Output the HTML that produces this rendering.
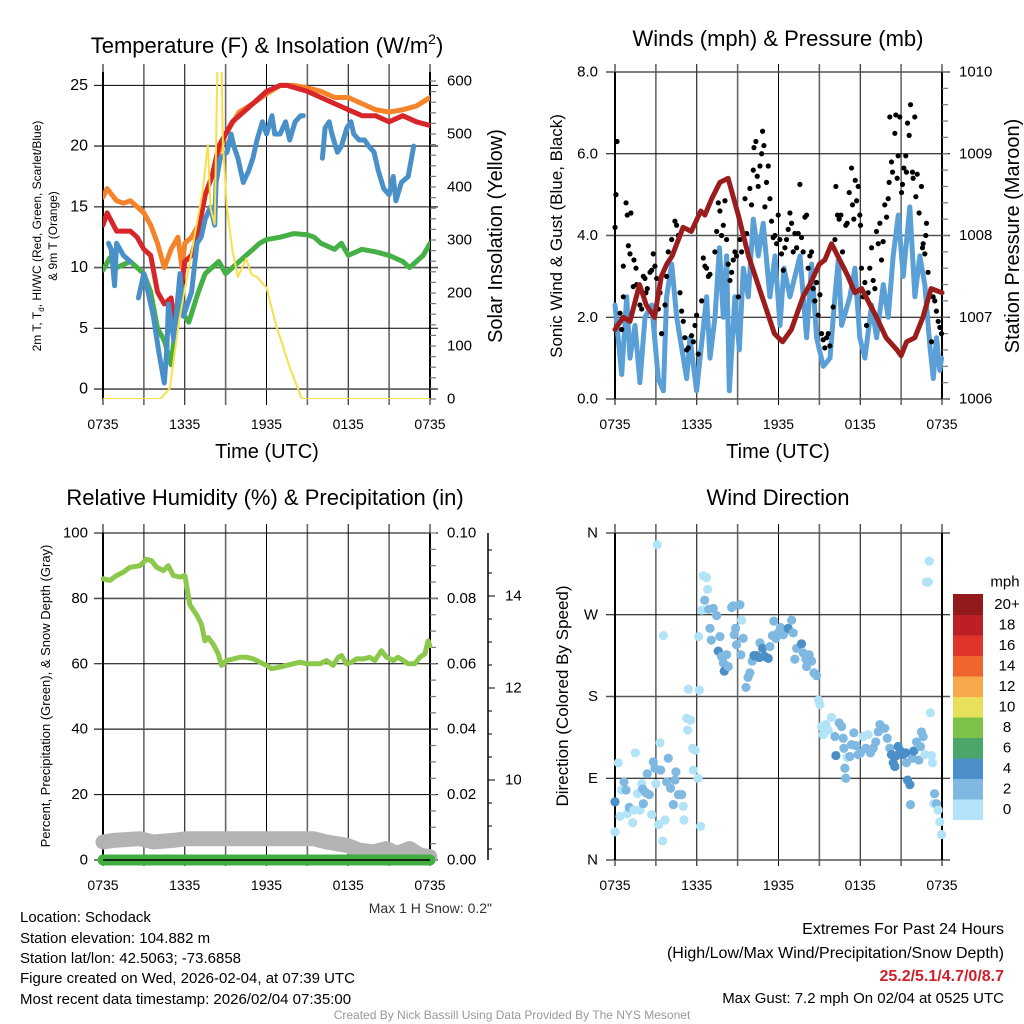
<!DOCTYPE html>
<html><head><meta charset="utf-8">
<style>
html,body{margin:0;padding:0;background:#fff;}
svg{display:block;font-family:"Liberation Sans",sans-serif;}
</style></head>
<body>
<svg id="fig" width="1024" height="1024" viewBox="0 0 1024 1024" xmlns="http://www.w3.org/2000/svg">
<rect width="1024" height="1024" fill="#fff"/>
<g id="texts" font-size="20" fill="#000">
<text x="267" y="53" text-anchor="middle" font-size="22">Temperature (F) &amp; Insolation (W/m<tspan font-size="14" dy="-9">2</tspan><tspan dy="9">)</tspan></text>
<text x="778" y="46" text-anchor="middle" font-size="22">Winds (mph) &amp; Pressure (mb)</text>
<text x="265" y="505" text-anchor="middle" font-size="22">Relative Humidity (%) &amp; Precipitation (in)</text>
<text x="778" y="505" text-anchor="middle" font-size="22">Wind Direction</text>
<text x="267" y="458" text-anchor="middle">Time (UTC)</text>
<text x="778" y="458" text-anchor="middle">Time (UTC)</text>
<text transform="translate(41,236) rotate(-90)" text-anchor="middle" font-size="12">2m T, T<tspan font-size="8" dy="3">d</tspan><tspan dy="-3">, HI/WC (Red, Green, Scarlet/Blue)</tspan></text>
<text transform="translate(57,236) rotate(-90)" text-anchor="middle" font-size="12">&amp; 9m T (Orange)</text>
<text transform="translate(502,236) rotate(-90)" text-anchor="middle">Solar Insolation (Yellow)</text>
<text transform="translate(562,236) rotate(-90)" text-anchor="middle" font-size="17">Sonic Wind &amp; Gust (Blue, Black)</text>
<text transform="translate(1019,236) rotate(-90)" text-anchor="middle">Station Pressure (Maroon)</text>
<text transform="translate(50,696) rotate(-90)" text-anchor="middle" font-size="13">Percent, Precipitation (Green), &amp; Snow Depth (Gray)</text>
<text transform="translate(568,696) rotate(-90)" text-anchor="middle" font-size="17">Direction (Colored By Speed)</text>
<text x="492" y="913" text-anchor="end" font-size="14" fill="#333">Max 1 H Snow: 0.2"</text>
<g font-size="15">
<text x="20" y="922">Location: Schodack</text>
<text x="20" y="943">Station elevation: 104.882 m</text>
<text x="20" y="963">Station lat/lon: 42.5063; -73.6858</text>
<text x="20" y="983">Figure created on Wed, 2026-02-04, at 07:39 UTC</text>
<text x="20" y="1004">Most recent data timestamp: 2026/02/04 07:35:00</text>
</g>
<g font-size="16" text-anchor="end">
<text x="1004" y="934">Extremes For Past 24 Hours</text>
<text x="1004" y="958">(High/Low/Max Wind/Precipitation/Snow Depth)</text>
<text x="1004" y="981" fill="#d0202a" font-weight="bold">25.2/5.1/4.7/0/8.7</text>
<text x="1004" y="1003" font-size="15">Max Gust: 7.2 mph On 02/04 at 0525 UTC</text>
</g>
<text x="512" y="1019" text-anchor="middle" font-size="12" fill="#999">Created By Nick Bassill Using Data Provided By The NYS Mesonet</text>
</g>
</svg>
<script>
// ---------- DATA ----------
const xTickLabels = ["0735","1335","1935","0135","0735"];
// Temperature panel
const orangeTimes = [0,0.3,1,1.5,2,2.5,3,3.5,4,4.5,5,5.5,5.8,6,6.5,7,7.5,8,8.5,9,10,11,12,13,14,15,16,17,18,19,20,21,22,23,24];
const orangeTemps = [15.8,16.5,15.5,15.3,15.5,15,14.5,13.5,12,10,11.5,12.5,10,12,12.5,13.5,16,17.5,19.5,21,22.8,23.5,24.3,25,25,24.8,24.5,24,24,23.5,23,22.8,23,23.3,24];
const redTimes = [0,0.3,1,2,2.5,3,3.5,4,4.5,5,5.3,5.7,6,6.5,7,7.5,8,8.5,9,9.5,10.5,11,11.5,12,13,13.5,15,16,17,18,19,20,21,22,23,24];
const redTemps = [13.5,14.5,13,13,12.5,11.5,11,8,7,7.5,5,8,10.5,11,13,16,17.5,20,21,22,23,23.5,24,24.5,25,25,24.5,24,23.5,23,22.5,22.5,22,22.5,22,21.7];
const greenTimes = [0,0.5,1,2,2.5,3,3.5,4,4.5,5,5.5,6,6.3,7,7.5,8,8.5,9,9.5,10.5,11.5,12,13,14,15,15.5,16,17,17.5,18,19,20,21,22,22.5,23,23.5,24];
const greenDewpts = [9.8,10.8,10,10.5,10,9.5,8,5,4,2,7,6,5.5,8,9.5,10,10.5,9.5,10,11,12,12.3,12.5,12.8,12.7,12.5,12,11.5,12,11,11.5,11.3,11,10.5,10,10.5,11,12];
const blueTimes = [0.4,0.6,0.85,1.0,1.5,2.0,2.3,2.6,3.0,3.3,3.7,4.1,4.5,4.7,4.8,5.2,5.65,5.9,6.5,6.9,7.2,7.5,7.9,8.2,8.3,8.6,9.1,9.4,9.6,9.9,10.3,10.7,11.0,11.3,11.7,12.0,12.4,12.6,13.0,13.4,13.7,14.1,14.5,14.7,15.0,16.1,16.3,16.6,16.8,17.2,17.5,17.9,18.2,18.4,18.8,19.2,19.5,19.9,20.2,20.6,21.0,21.3,21.5,21.9,22.4,22.8];
const blueWindChill = [12,11.5,8.5,12,11,10.5,null,7.5,9.5,8,6,3,0.5,3.5,7,4,9.5,6,8,12,12.5,14,15,13.5,17,19,19.5,21,20,19,17,18,19,20.5,22,21,22.5,21,21,22,20.5,22,22.5,22.5,null,19,21.5,22,21,19.5,20,21.5,22,21,20.5,20.5,20,19.5,18,16.5,16,17.5,15.5,17,17.5,20];
const solarTimes = [0,4.2,4.9,5.6,6.6,7.3,7.7,7.9,8.2,8.4,8.7,8.8,9.1,9.5,9.9,10.5,10.9,11.3,12,12.7,13.7,14.6,24];
const solarValues = [0,0,20,150,290,390,480,360,330,640,640,480,360,280,230,265,235,230,210,140,60,0,0];
const tempTicks = [0,5,10,15,20,25];
const solarTicks = [0,100,200,300,400,500,600];
// Winds panel
const windTimes = [0,0.49,0.86,1.10,1.47,1.83,2.20,2.69,3.18,3.55,3.79,4.16,4.53,5.26,5.50,5.99,6.72,6.97,7.34,7.66,7.95,8.19,8.39,8.80,9.12,9.42,9.78,10.15,10.52,10.88,11.37,11.74,12.11,12.40,12.84,13.58,14.06,14.43,14.80,15.29,15.78,16.14,16.39,16.63,17.24,17.61,17.97,18.34,18.83,19.20,19.69,20.05,20.42,20.79,21.15,21.64,22.01,22.37,22.74,23.11,23.36,23.60,23.84,23.97];
const windSpeeds = [2.3,0.6,2.5,1.0,1.8,0.4,2.0,2.3,0.5,0.2,2.5,3.3,2.0,0.5,1.5,0.2,2.5,1.0,2.0,3.7,2.0,3.5,0.2,2.5,1.2,3.2,2.5,4.4,3.5,4.3,2.5,3.5,1.8,3.2,2.5,3.5,1.5,3.3,1.5,0.8,1.0,2.5,3.4,1.8,2.5,3.2,1.5,1.0,2.3,1.5,2.8,2.0,3.5,4.5,3.0,4.7,2.5,3.5,2.8,1.3,0.5,1.5,0.7,1.0];
const gustTimes = [0,0.07,0.15,0.37,0.49,0.61,0.81,0.9,0.98,1.1,1.17,0.61,1.39,1.54,1.59,1.34,1.83,1.96,2.08,2.2,2.27,2.37,2.57,2.69,2.81,2.93,3.06,3.18,3.3,3.42,3.67,3.79,3.91,4.16,4.4,4.52,4.65,4.77,4.89,5.01,5.13,5.26,5.38,5.62,5.75,5.87,5.99,6.11,6.36,6.48,6.6,6.72,6.85,6.97,7.33,7.46,7.58,7.7,7.82,7.95,8.07,8.19,8.31,8.44,8.56,8.68,8.8,8.92,9.05,9.17,9.29,9.54,9.66,9.9,10.02,10.15,10.2,10.34,10.44,10.51,10.64,10.76,10.83,10.93,11.0,11.12,11.25,11.37,11.49,11.61,11.74,11.86,11.98,12.1,12.22,12.35,12.47,12.59,12.71,12.84,12.96,13.08,13.2,13.33,13.45,13.57,13.69,13.81,13.94,14.06,14.18,14.3,14.43,14.55,14.67,14.79,14.91,15.04,15.16,15.28,15.4,15.53,15.65,15.77,16.01,16.14,16.21,16.33,16.45,16.58,16.7,16.8,16.94,17.04,17.19,17.36,17.43,17.53,17.63,17.73,17.85,17.97,18.02,18.09,18.22,18.34,18.46,18.58,18.7,18.83,18.95,19.07,19.19,19.32,19.44,19.56,19.68,19.8,19.93,20.05,20.12,20.17,20.29,20.37,20.54,20.61,20.71,20.78,20.9,21.03,21.1,21.2,21.34,21.39,21.47,21.59,21.69,21.83,21.88,22.0,22.08,22.18,22.32,22.49,22.57,22.62,22.74,22.81,22.86,22.98,23.23,23.35,23.47,23.59,23.72,23.84,23.96];
const gustSpeeds = [4.2,5.0,6.3,2.1,1.7,2.5,4.8,4.5,3.75,3.55,4.55,3.25,3.4,3.2,2.8,2.75,2.3,2.2,3.0,2.95,2.6,2.7,3.1,3.15,3.55,3.25,2.95,2.2,2.6,1.6,2.3,3.0,3.6,3.9,4.35,4.25,4.0,2.6,2.15,1.9,1.5,1.2,1.25,1.55,1.4,1.8,2.05,1.1,2.4,3.45,3.25,3.2,3.0,3.05,3.6,4.1,4.8,4.6,4.0,4.25,4.85,3.9,3.3,2.9,3.1,3.4,3.6,3.5,2.5,3.9,3.6,4.9,4.05,5.15,4.75,5.6,6.15,6.3,5.45,5.2,5.7,6.0,6.55,6.2,4.7,5.3,5.7,4.9,4.35,3.95,4.0,3.8,4.5,3.9,3.55,3.15,3.7,3.9,4.15,4.55,4.3,3.6,4.05,3.7,4.05,5.25,3.95,3.6,4.45,4.5,3.2,3.5,3.6,2.7,2.4,2.85,2.05,2.55,1.6,1.45,1.25,1.5,1.6,1.3,2.25,3.9,5.2,4.5,4.4,4.5,3.6,3.2,4.25,4.3,5.05,5.65,4.75,4.4,5.35,4.85,5.2,4.5,4.25,3.2,2.5,2.85,1.8,2.6,3.2,3.7,2.9,2.7,4.1,3.8,4.3,3.4,3.85,4.75,4.45,4.9,5.3,6.9,5.8,5.55,6.5,6.95,5.4,5.95,6.9,5.05,5.25,5.65,5.95,5.55,6.75,6.45,7.2,5.55,5.4,6.9,4.95,5.5,4.55,5.2,3.7,3.8,3.55,4.0,4.3,3.1,1.4,2.5,2.4,2.15,1.9,1.75,1.6];
const pressureTimes = [0,0.6,1.1,1.8,2.3,2.9,3.4,3.8,4.2,5.0,5.6,6.3,6.6,7.1,7.7,8.3,9.05,9.8,10.8,11.7,12.3,12.95,13.8,14.3,15.0,15.4,15.9,16.5,17.1,17.6,18.1,19.2,19.9,20.7,21.0,21.4,22.0,22.6,23.2,24];
const pressureValues = [1006.85,1007.0,1006.95,1007.4,1007.15,1007.0,1007.5,1007.65,1007.75,1008.1,1008.05,1008.3,1008.25,1008.45,1008.65,1008.7,1008.25,1007.75,1007.25,1006.8,1006.7,1006.85,1007.25,1007.4,1007.65,1007.7,1007.9,1007.7,1007.5,1007.3,1007.35,1007.0,1006.75,1006.6,1006.53,1006.7,1006.75,1007.0,1007.35,1007.3];
const windTickLabels = ["0.0","2.0","4.0","6.0","8.0"];
const pressureTickLabels = ["1006","1007","1008","1009","1010"];
// Humidity panel
const rhTimes = [0.02,0.51,1.0,1.49,1.98,2.71,3.2,3.57,3.94,4.43,4.79,5.16,5.65,6.01,6.38,6.87,7.24,7.48,7.73,8.09,8.46,8.7,9.07,9.56,10.05,10.54,11.03,11.52,12.0,12.37,12.98,13.47,13.96,14.45,14.94,15.43,15.92,16.41,16.89,17.26,17.51,17.87,18.24,18.61,19.1,19.58,19.95,20.44,20.81,21.3,21.66,22.03,22.4,22.89,23.25,23.62,23.86,23.99];
const rhValues = [86,85.5,87,88,89.5,90,92,91.5,89.5,88.5,90,87,86.5,87,78,75,72,67,68,66,63,59.5,61,61.5,62,62,61.5,60.5,59.5,58.5,59,59.5,60,60.5,60,60,60,61,59.5,62,62.5,60,60.5,61.5,61.5,62,61,64,62,61,62,61,60,60,62,63,67,65.5];
const snowTimes = [0,0.76,2.71,3.69,5.16,6.14,15.43,16.41,17.87,18.85,19.83,20.81,21.54,22.52,23.25,23.99];
const snowValues = [5.5,6,6.5,5.5,6,6.5,6.5,5.5,4.5,3,2.5,3.5,2,3.5,1.5,1];
const precipTimes = [0,6,12,18,24];
const precipValues = [0,0,0,0,0];
const rhTicks = [0,20,40,60,80,100];
const precipTickLabels = ["0.00","0.02","0.04","0.06","0.08","0.10"];
const snowAxisLabels = ["10","12","14"];
// Wind direction panel
const dirTimes = [0,0,0.24,0.37,0.49,0.66,0.81,0.9,1.05,1.3,1.39,1.49,1.64,1.83,1.96,2.03,2.08,2.27,2.52,2.37,2.69,2.81,2.93,3.0,3.1,3.2,3.3,3.35,3.5,3.55,3.67,3.79,3.91,4.08,4.28,4.4,4.47,4.65,4.89,5.01,5.06,5.26,5.33,5.38,5.55,5.7,5.75,5.87,6.09,6.19,6.28,6.14,6.38,6.48,6.58,6.72,6.8,6.87,6.97,7.07,7.21,7.46,7.58,7.7,7.82,7.95,8.02,8.19,8.31,8.56,8.68,8.75,8.85,8.92,9.17,9.29,9.24,9.41,9.61,9.76,9.9,10.07,10.2,10.39,10.59,10.64,10.83,11.0,11.25,11.37,11.56,11.66,11.81,11.98,12.15,12.35,12.54,12.71,12.96,13.08,13.2,13.33,13.69,13.81,14.01,14.06,14.25,14.43,14.6,14.79,14.94,15.04,15.16,15.28,15.48,15.65,15.89,16.14,16.21,16.45,16.63,16.75,16.8,16.87,16.94,17.04,17.24,17.36,17.53,17.68,17.85,18.02,18.22,18.41,18.58,18.75,18.95,19.14,19.32,19.44,19.63,19.8,19.98,20.17,20.29,20.42,20.54,20.66,20.78,20.95,21.15,21.34,21.39,21.47,21.64,21.69,21.83,21.93,22.13,22.3,22.42,22.49,22.62,22.74,22.86,23.0,23.06,23.15,23.23,23.3,23.45,23.4,23.59,23.72,23.84,23.96];
const dirDegrees = [64,31,107,48,77,86,77,51,58,41,55,118,73,55,84,78,62,74,72,95,50,108,101,84,347,39,129,99,21,247,44,86,112,79,61,88,97,72,72,59,44,156,143,188,154,123,99,121,90,187,37,246,275,313,286,311,298,276,255,242,277,269,230,246,224,217,208,226,213,278,280,248,255,237,281,264,226,244,190,201,206,219,225,225,223,239,233,224,222,235,247,263,244,250,256,248,253,255,264,250,221,233,238,228,221,213,226,219,206,203,176,171,147,138,149,143,157,136,115,151,147,134,123,101,90,113,114,127,140,126,116,118,136,123,138,118,123,130,141,149,145,145,134,123,116,107,103,115,125,120,116,118,107,88,83,61,112,120,130,110,125,141,136,116,306,306,329,162,115,107,73,62,62,55,42,28];
const dirSpeeds = [4.5,1,1,1,1,3,3,1,3,1,1,1,1,1,1,3,3,3,3,3,1,3,3,1,1,1,1,3,1,1,1,3,3,3,3,3,3,3,3,1,1,1,1,1,1,1,1,1,1,1,1,1,1,1,3,1,1,3,3,3,3,3,4.5,3,3,3,4.5,3,3,3,3,3,3,3,3,1,3,3,3,3,3,3,4.5,4.5,4.5,3,4.5,4.5,4.5,3,3,3,3,3,3,3,3,4.5,3,3,3,3,4.5,3,3,3,3,3,3,3,1,1,1,1,1,1,1,3,4.5,3,3,3,3,3,3,1,3,3,3,3,3,3,1,3,1,3,3,3,3,3,3,3,3,3,4.5,4.5,4.5,4.5,4.5,4.5,4.5,4.5,3,4.5,4.5,3,3,4.5,3,3,3,3,3,1,1,1,1,1,1,1,3,1,3,1,1,1];
const dirTickLabels = ["N","E","S","W","N"];
const speedBins = ["0","2","4","6","8","10","12","14","16","18","20+"];
const speedColors = ["#b3e3f7","#7fb9e2","#4a8fc8","#4aa66b","#7cc24b","#e6e05a","#f6a84a","#f0652e","#de3429","#bd1f26","#921a1d"];

// ---------- DRAWING ----------
const NS = "http://www.w3.org/2000/svg";
const svg = document.getElementById("fig");
function el(tag, attrs, parent) {
  const e = document.createElementNS(NS, tag);
  for (const k in attrs) e.setAttribute(k, attrs[k]);
  (parent || svg).appendChild(e);
  return e;
}
function panel(x0, x1, yTop, yBot) {
  return {
    x: h => x0 + (h / 24) * (x1 - x0),
    y: (v, lo, hi) => yBot - (v - lo) / (hi - lo) * (yBot - yTop),
    x0, x1, yTop, yBot
  };
}
function frame(p, name, yTicksPx, gridTop) {
  const g = el("g", {});
  
  
  for (let i = 0; i <= 8; i++) {
    const xx = p.x0 + i * (p.x1 - p.x0) / 8;
    const major = i % 2 === 0;
    el("line", {x1: xx, x2: xx, y1: gridTop, y2: p.yBot + 6, stroke: major ? "#000" : "#666", "stroke-width": major ? 1 : 1.6}, g);
  }
  yTicksPx.forEach((yy, i) => {
    el("line", {x1: p.x0 - 9, x2: p.x1 + 8, y1: yy, y2: yy, stroke: i % 2 ? "#000" : "#555", "stroke-width": i % 2 ? 1 : 1.6}, g);
  });
  el("line", {x1: p.x0, x2: p.x0, y1: p.yTop, y2: p.yBot, stroke: "#000", "stroke-width": 2}, g);
  el("line", {x1: p.x1, x2: p.x1, y1: p.yTop, y2: p.yBot, stroke: "#000", "stroke-width": 2}, g);
  xTickLabels.forEach((lab, i) => {
    const t = el("text", {x: p.x0 + i * (p.x1 - p.x0) / 4, y: p.yBot + 25, "text-anchor": "middle", "font-size": 14, "dominant-baseline": "central"}, g);
    t.textContent = lab;
    
    
  });
  return g;
}
function minorTicks(xAxis, yFrom, yTo, step, dir, len, name) {
  const g = el("g", {});
  
  
  for (let yy = yFrom; yy >= yTo - 0.5; yy -= step)
    el("line", {x1: xAxis, x2: xAxis + dir * len, y1: yy, y2: yy, stroke: "#777", "stroke-width": 1.2}, g);
}
function linePath(times, vals, xf, yf) {
  let d = "", pen = false;
  for (let i = 0; i < times.length; i++) {
    if (vals[i] === null) { pen = false; continue; }
    d += (pen ? "L" : "M") + xf(times[i]).toFixed(1) + "," + yf(vals[i]).toFixed(1);
    pen = true;
  }
  return d;
}
function label(x, y, txt, anchor, size, name) {
  const t = el("text", {x: x, y: y, "text-anchor": anchor, "font-size": size || 15, "dominant-baseline": "central"});
  t.textContent = txt;
  
  
  return t;
}

// ===== Panel 1: Temperature =====
(function () {
  const p = panel(103, 430, 72, 399);
  const TLO = -0.82, THI = 26.1, SLO = 0, SHI = 617;
  const yT = v => p.y(v, TLO, THI), yS = v => p.y(v, SLO, SHI);
  frame(p, "temperature", tempTicks.map(yT), 64);
  minorTicks(p.x1, yS(0), yS(617), yS(0) - yS(20), 1, 6, "solar-minor-ticks");
  tempTicks.forEach(v => label(88, yT(v), String(v), "end", 16, "temp-y-tick-label"));
  solarTicks.forEach(v => label(447, yS(v), String(v), "start", 15, "solar-y-tick-label"));
  const clip = el("clipPath", {id: "c1"});
  el("rect", {x: p.x0, y: p.yTop, width: p.x1 - p.x0, height: p.yBot - p.yTop}, clip);
  const g = el("g", {"clip-path": "url(#c1)", fill: "none", "stroke-linejoin": "round", "stroke-linecap": "round"});
  
  
  const a = el("path", {d: linePath(orangeTimes, orangeTemps, p.x, yT), stroke: "#f5832a", "stroke-width": 5}, g);
  
  
  const b = el("path", {d: linePath(redTimes, redTemps, p.x, yT), stroke: "#d7252a", "stroke-width": 5}, g);
  
  
  const c = el("path", {d: linePath(greenTimes, greenDewpts, p.x, yT), stroke: "#45b045", "stroke-width": 5}, g);
  
  
  const d = el("path", {d: linePath(blueTimes, blueWindChill, p.x, yT), stroke: "#4a90c8", "stroke-width": 5}, g);
  
  
  const e = el("path", {d: linePath(solarTimes, solarValues, p.x, yS), stroke: "#f8e04a", "stroke-width": 2}, g);
  
  
})();

// ===== Panel 2: Winds =====
(function () {
  const p = panel(615, 942, 72, 399);
  const yW = v => p.y(v, 0, 8), yP = v => p.y(v, 1006, 1010);
  frame(p, "winds", [0, 2, 4, 6, 8].map(yW), 64);
  minorTicks(p.x1, yP(1006), yP(1010), yP(1006) - yP(1006.2), 1, 6, "pressure-minor-ticks");
  windTickLabels.forEach((s, i) => label(598, yW(i * 2), s, "end", 15, "wind-y-tick-label"));
  pressureTickLabels.forEach((s, i) => label(959, yP(1006 + i), s, "start", 15, "pressure-y-tick-label"));
  const clip = el("clipPath", {id: "c2"});
  el("rect", {x: p.x0 - 4, y: p.yTop, width: p.x1 - p.x0 + 8, height: p.yBot - p.yTop}, clip);
  const g = el("g", {"clip-path": "url(#c2)", "stroke-linejoin": "round", "stroke-linecap": "round"});
  
  
  const w = el("path", {d: linePath(windTimes, windSpeeds, p.x, yW), stroke: "#5a9fd6", "stroke-width": 5, fill: "none"}, g);
  
  
  gustTimes.forEach((t, i) => {
    const c = el("circle", {cx: p.x(t), cy: yW(gustSpeeds[i]), r: 2.6, fill: "#000"}, g);
    
    
  });
  const pr = el("path", {d: linePath(pressureTimes, pressureValues, p.x, yP), stroke: "#9b1c1c", "stroke-width": 5, fill: "none"}, g);
  
  
})();

// ===== Panel 3: Humidity =====
(function () {
  const p = panel(103, 430, 533, 860);
  const yR = v => p.y(v, 0, 100);
  frame(p, "humidity", rhTicks.map(yR), 524);
  minorTicks(p.x1, yR(0), yR(100), yR(0) - yR(5), 1, 6, "precip-minor-ticks");
  rhTicks.forEach(v => label(88, yR(v), String(v), "end", 15, "rh-y-tick-label"));
  precipTickLabels.forEach((s, i) => label(447, yR(i * 20), s, "start", 15, "precip-y-tick-label"));
  const sa = el("g", {});
  
  
  el("line", {x1: 488, x2: 488, y1: 533, y2: 860, stroke: "#000", "stroke-width": 1.5}, sa);
  for (let k = 0; k <= 14; k++) {
    const yy = 550 + k * 23;
    if (yy > 858) break;
    const major = (k % 4 === 2);
    el("line", {x1: 488, x2: major ? 495 : 492, y1: yy, y2: yy, stroke: "#000", "stroke-width": 1}, sa);
  }
  snowAxisLabels.forEach((s, i) => label(505, 780 - i * 92, s, "start", 15, "snow-axis-label"));
  const g = el("g", {fill: "none", "stroke-linejoin": "round", "stroke-linecap": "round"});
  
  
  const s = el("path", {d: linePath(snowTimes, snowValues, p.x, yR), stroke: "#b3b3b3", "stroke-width": 15}, g);
  
  
  const pc = el("path", {d: linePath(precipTimes, precipValues, p.x, v => yR(v * 1000)), stroke: "#43ad43", "stroke-width": 11}, g);
  
  
  const r = el("path", {d: linePath(rhTimes, rhValues, p.x, yR), stroke: "#8cc84b", "stroke-width": 5}, g);
  
  
  el("line", {x1: p.x0, x2: p.x1, y1: p.yBot, y2: p.yBot, stroke: "#000", "stroke-width": 1.5});
})();

// ===== Panel 4: Wind direction =====
(function () {
  const p = panel(615, 942, 533, 860);
  const yD = v => p.y(v, 0, 360);
  frame(p, "wind-direction", [0, 90, 180, 270, 360].map(yD), 524);
  dirTickLabels.forEach((s, i) => label(598, yD(i * 90), s, "end", 15, "direction-tick-label"));
  const g = el("g", {});
  
  
  dirTimes.forEach((t, i) => {
    const bin = Math.min(10, Math.floor(dirSpeeds[i] / 2));
    const c = el("circle", {cx: p.x(t), cy: yD(dirDegrees[i]), r: 4.6, fill: speedColors[bin]}, g);
    
    
  });
  const lg = el("g", {});
  
  
  const top = 594, bh = 20.5;
  speedBins.forEach((s, i) => {
    const k = 10 - i;
    const r = el("rect", {x: 953, y: top + k * bh, width: 30, height: bh + 0.5, fill: speedColors[i]}, lg);
    
    
    const t = el("text", {x: 1007, y: top + k * bh + bh / 2, "text-anchor": "middle", "font-size": 15, "dominant-baseline": "central"}, lg);
    t.textContent = s;
    
    
  });
  const u = el("text", {x: 1005, y: 582, "text-anchor": "middle", "font-size": 15, "dominant-baseline": "central"}, lg);
  u.textContent = "mph";
  
  
})();
</script>
</body></html>
